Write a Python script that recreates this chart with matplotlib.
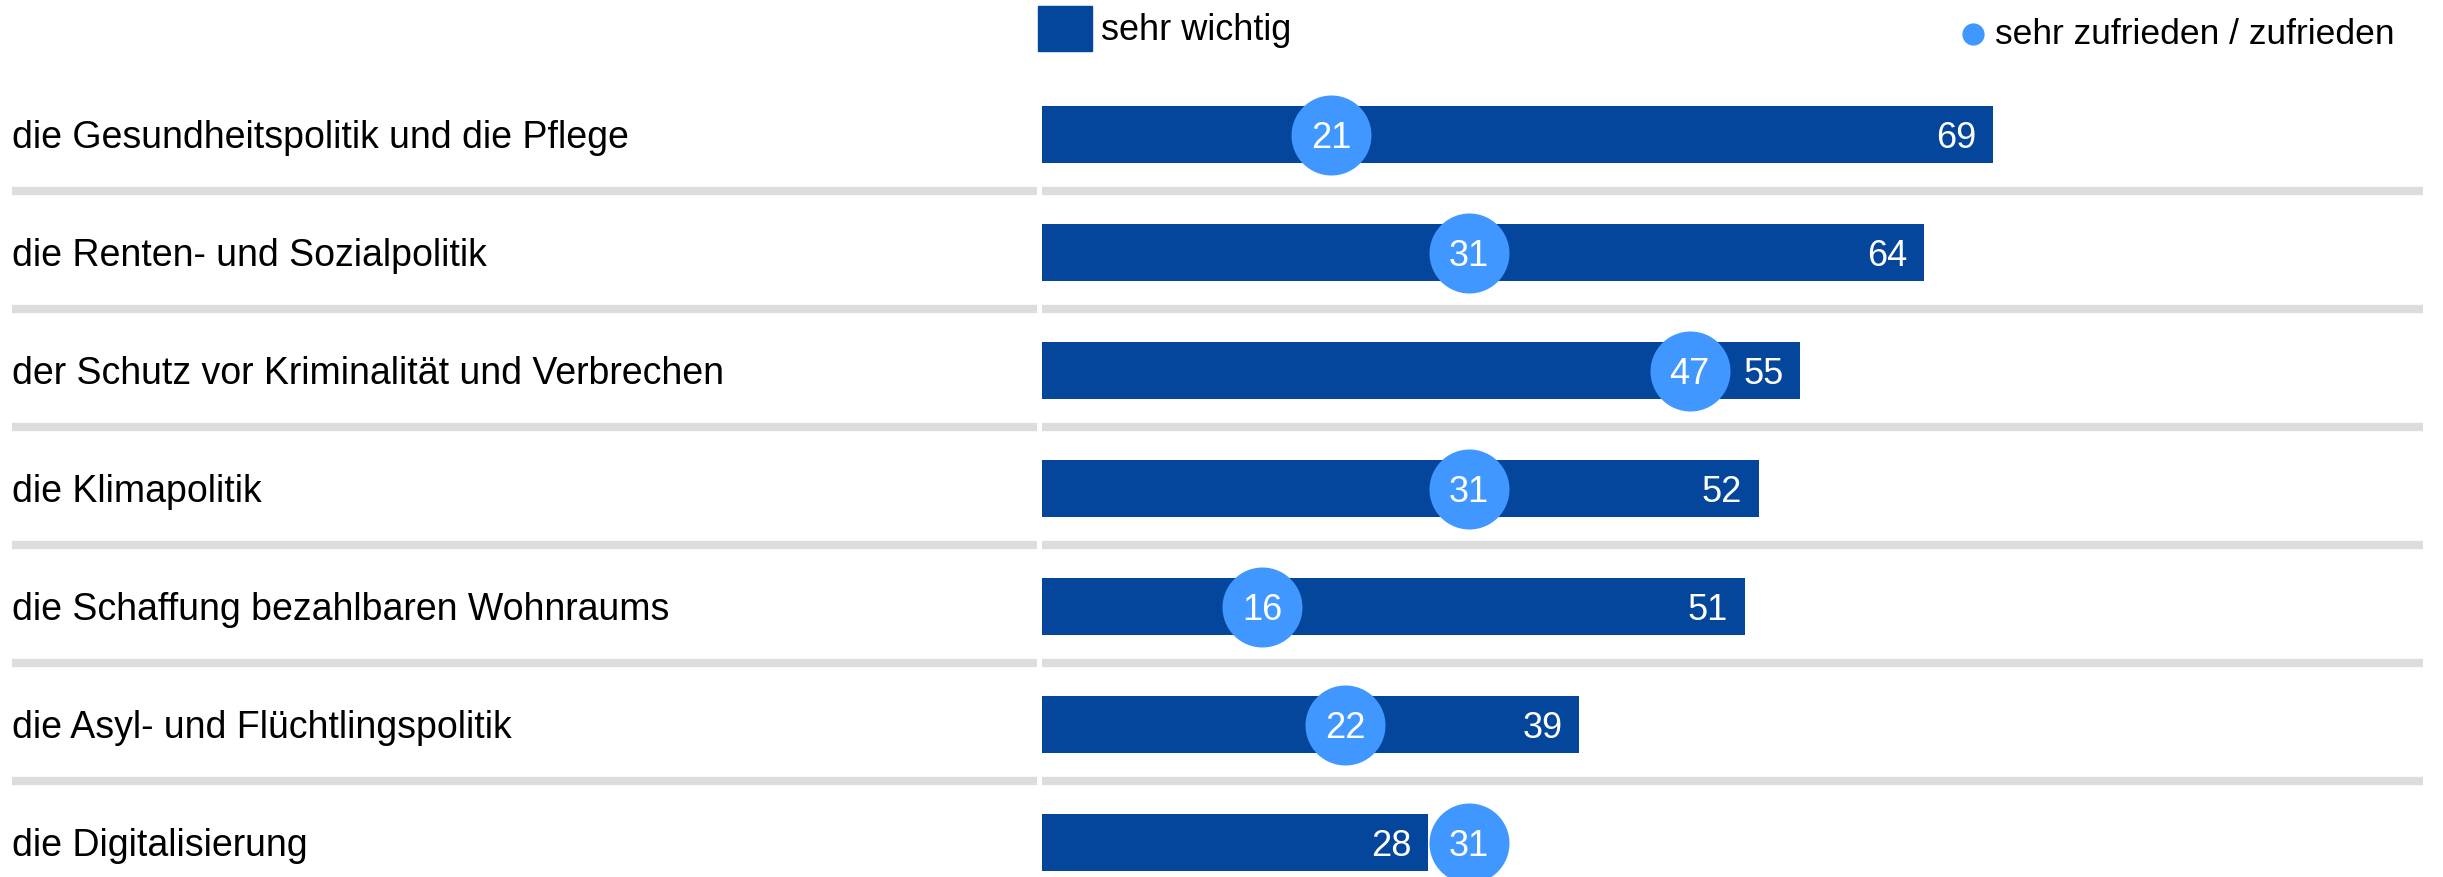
import matplotlib.pyplot as plt
from matplotlib.patches import Rectangle

plt.rcParams['font.family'] = ['Liberation Sans', 'DejaVu Sans']

# Daten
themen = [
    'die Gesundheitspolitik und die Pflege',
    'die Renten- und Sozialpolitik',
    'der Schutz vor Kriminalität und Verbrechen',
    'die Klimapolitik',
    'die Schaffung bezahlbaren Wohnraums',
    'die Asyl- und Flüchtlingspolitik',
    'die Digitalisierung',
]
sehr_wichtig = [69, 64, 55, 52, 51, 39, 28]
zufrieden = [21, 31, 47, 31, 16, 22, 31]

BAR_COLOR = '#03469b'
DOT_COLOR = '#3f97ff'
SEP_COLOR = '#dddddd'

W, H = 2443, 878
fig = plt.figure(figsize=(W / 100, H / 100), dpi=100)
ax = fig.add_axes([0, 0, 1, 1])

# Skala: 0 bei Pixel 1042, 13.78 px pro Prozentpunkt
px_per_unit = 13.78
x0_px = 1042
row_px = 118
row0_px = 135.5
ax.set_xlim(-x0_px / px_per_unit, (W - x0_px) / px_per_unit)
ax.set_ylim((H - row0_px) / row_px, -row0_px / row_px)
ax.axis('off')

xmin = ax.get_xlim()[0]
to_x = lambda px: xmin + px / px_per_unit
dy = 0.025  # Text leicht nach unten

rows = range(len(themen))
ax.barh(list(rows), sehr_wichtig, height=0.49, color=BAR_COLOR, zorder=2)

for i in rows:
    # Themenlabel
    ax.text(to_x(12), i + dy, themen[i], ha='left', va='center', fontsize=27,
            color='black')
    # Wert im Balken
    ax.text(sehr_wichtig[i] - 1.2, i + dy, str(sehr_wichtig[i]), ha='right',
            va='center', fontsize=26, color='white', zorder=3)
    # Trennlinie
    if i < len(themen) - 1:
        ax.plot([to_x(12), to_x(1037)], [i + 0.475, i + 0.475], color=SEP_COLOR,
                lw=6, solid_capstyle='butt', zorder=1)
        ax.plot([0, to_x(2423)], [i + 0.475, i + 0.475], color=SEP_COLOR,
                lw=6, solid_capstyle='butt', zorder=1)

# Punkte
ax.plot(zufrieden, list(rows), 'o', ms=57.6, color=DOT_COLOR, mec='none',
        zorder=4, clip_on=True)
for i in rows:
    ax.text(zufrieden[i], i + dy, str(zufrieden[i]), ha='center', va='center',
            fontsize=26, color='white', zorder=5)

# Legende
fig.patches.append(Rectangle((1038 / W, 1 - 52 / H), 54 / W, 45 / H,
                             transform=fig.transFigure, color=BAR_COLOR))
fig.text(1101 / W, 1 - 31 / H, 'sehr wichtig', ha='left', va='center',
         fontsize=26)
fig.lines.append(plt.Line2D([1973 / W], [1 - 35 / H], marker='o', ms=16,
                            color=DOT_COLOR, mec='none',
                            transform=fig.transFigure))
fig.text(1995 / W, 1 - 34 / H, 'sehr zufrieden / zufrieden',
         ha='left', va='center', fontsize=25.5)

fig.savefig('out.png', dpi=100)
